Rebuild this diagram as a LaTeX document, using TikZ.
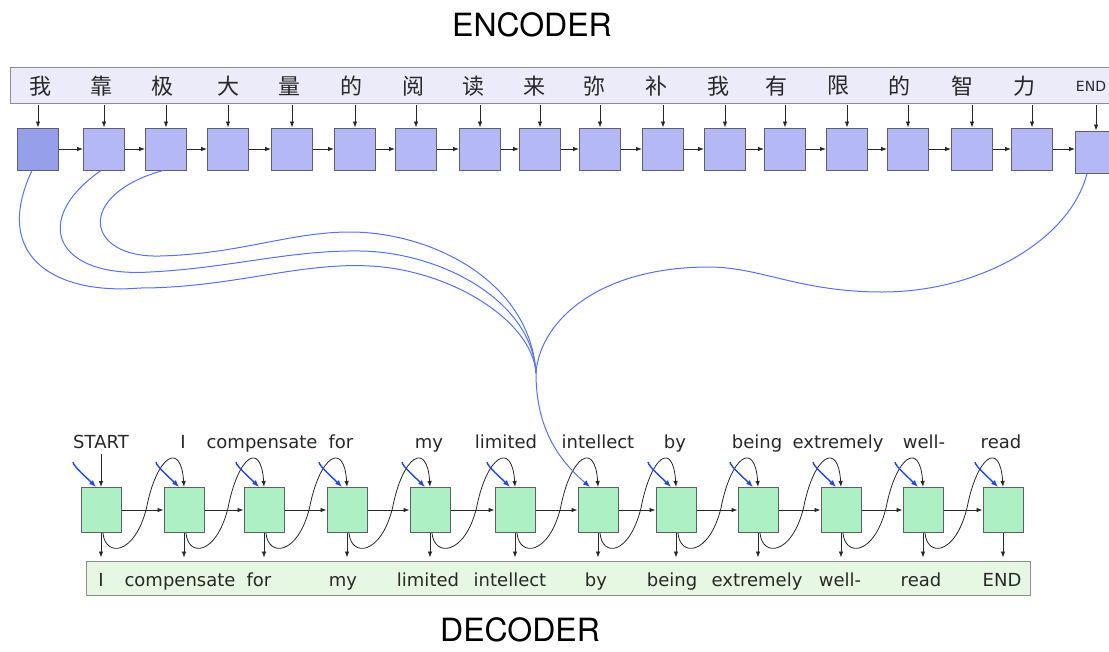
\documentclass[tikz,border=0pt]{standalone}
\usepackage{fontspec}
\setmainfont{DejaVu Sans}
\newfontfamily\titlefont{TeX Gyre Heros}
\newfontfamily\cjk{Noto Sans CJK SC}
\usetikzlibrary{calc, arrows.meta}

\definecolor{encband}{RGB}{236,235,250}
\definecolor{encfill}{RGB}{180,185,245}
\definecolor{encdark}{RGB}{150,160,234}
\definecolor{decband}{RGB}{230,248,226}
\definecolor{decfill}{RGB}{172,240,196}
\definecolor{boxline}{RGB}{95,95,105}
\definecolor{bandline}{RGB}{140,140,150}
\definecolor{attnblue}{RGB}{85,115,240}
\definecolor{hintblue}{RGB}{30,70,240}
\definecolor{ink}{RGB}{40,40,40}

\tikzset{
  encbox/.style={draw=boxline, fill=encfill, line width=1pt, minimum width=41pt, minimum height=42pt, inner sep=0pt},
  decbox/.style={draw=boxline, fill=decfill, line width=1pt, minimum width=40pt, minimum height=45pt, inner sep=0pt},
  band/.style={draw=bandline, line width=1pt, inner sep=0pt},
  arr/.style={draw=ink, line width=0.8pt, -{Latex[length=6pt,width=4.5pt]}},
  feedback/.style={draw=ink, line width=0.8pt, -{Latex[length=6pt,width=4.5pt]}},
  attn/.style={draw=attnblue, line width=1pt},
  hint/.style={draw=hintblue, line width=1.4pt, -{Latex[length=7pt,width=5.5pt]}},
  srcword/.style={font=\cjk\fontsize{22}{22}\selectfont, text=ink},
  word/.style={font=\fontsize{18}{18}\selectfont, text=ink, anchor=base, inner sep=1pt},
  title/.style={font=\titlefont\fontsize{32}{32}\selectfont, text=black, inner sep=0pt},
}

\begin{document}
\begin{tikzpicture}[x=1pt, y=-1pt]
  \useasboundingbox (0,0) rectangle (1109,651);
  % titles
  \node[title] (enctitle) at (532,25) {ENCODER};
  \node[title] (dectitle) at (520,630) {DECODER};

  % encoder: source band, words and cells
  \node[band, fill=encband, minimum width=1110pt, minimum height=36pt] (src) at (565,85) {};
  \node[encbox, fill=encdark] (e1) at (38,149) {};
  \node[srcword] (c1) at (40,86) {我};
  \foreach \bx/\cx/\ch [count=\i from 2] in {104/101/靠, 166/162/极, 228/228/大, 292/289/量,
      355/351/的, 416/413/阅, 480/473/读, 540/534/来, 600/594/弥, 663/656/补, 725/718/我,
      785/776/有, 847/838/限, 908/899/的, 972/962/智, 1032/1024/力} {
    \node[encbox] (e\i) at (\bx,149) {};
    \node[srcword] (c\i) at (\cx,86) {\ch};
  }
  \node[encbox] (e18) at (1096,152) {};
  \node[srcword, font=\fontsize{14}{14}\selectfont] (c18) at (1091,86) {END};
  \foreach \i in {1,...,18}
    \draw[arr, shorten <=1pt] (e\i.north |- src.south) -- (e\i.north);
  \foreach \i [evaluate=\i as \j using int(\i+1)] in {1,...,17}
    \draw[arr] (e\i.east) -- (e\i.east -| e\j.west);

  % decoder: cells, words, target band
  \node[band, fill=decband, minimum width=944pt, minimum height=34pt] (tgt) at (558,578) {};
  \foreach \x/\tx/\tw/\bx/\bw [count=\i] in {101/101/START/101/I, 184/183/I/180/compensate,
      264/262/compensate/259/for, 347/341/for/343/my, 430/429/my/428/limited,
      515/506/limited/510/intellect, 598/598/intellect/596/by, 676/675/by/672/being,
      758/757/being/757/extremely, 841/838/extremely/840/well-, 923/924/well-/921/read,
      1003/1001/read/1002/END} {
    \node[decbox] (d\i) at (\x,510) {};
    \node[word] (t\i) at (\tx,448) {\tw};
    \node[word] (b\i) at (\bx,586) {\bw};
    \draw[arr, shorten >=3pt] (d\i.south) -- (d\i.south |- tgt.north);
  }
  \draw[arr, shorten <=5pt] (t1.south) -- (d1.north);
  \foreach \i [evaluate=\i as \j using int(\i+1)] in {1,...,11} {
    \draw[arr] (d\i.east) -- (d\j.west);
    % output fed back as next input
    \draw[feedback] ($(d\i.south)+(2,0)$) .. controls +(2,24) and +(-12,48)
      .. ($(d\i.east)!.5!(d\j.west)+(4,-2)$) .. controls +(10,-52) and +(-3,-47) .. (d\j.north);
  }
  \foreach \i in {1,2,3,4,5,6,8,9,10,11,12} {
    \coordinate (h\i) at ($(d\i.north)+(-28,-25)$);
    \draw[hint] (h\i) .. controls +(0,4) and +(-8,-8) .. ($(d\i.north)+(-5,0)$);
  }

  % attention over encoder states
  \coordinate (merge) at (536,373);
  \draw[attn] ($(e1.south)+(-6,0)$) .. controls (-10,260) and (60,295) .. (140,288)
    .. controls (230,288) and (300,262) .. (370,266) .. controls (450,270) and (532,320) .. (merge);
  \draw[attn] ($(e2.south)+(-3,0)$) .. controls (30,220) and (55,278) .. (150,272)
    .. controls (230,268) and (290,250) .. (360,251) .. controls (440,252) and (532,300) .. (merge);
  \draw[attn] ($(e3.south)+(-3,0)$) .. controls (75,195) and (85,258) .. (160,256)
    .. controls (240,254) and (290,232) .. (350,232) .. controls (430,232) and (530,280) .. (merge);
  \draw[attn] ($(e18.south)+(-9,0)$) .. controls (1070,240) and (980,292) .. (882,292)
    .. controls (800,292) and (760,267) .. (709,267) .. controls (600,267) and (540,320) .. (merge);
  \draw[attn, -{Latex[length=7pt,width=5.5pt,color=hintblue]}] (merge)
    .. controls +(0,57) and +(-30,-26) .. ($(d7.north)+(-8,0)$);
\end{tikzpicture}
\end{document}
